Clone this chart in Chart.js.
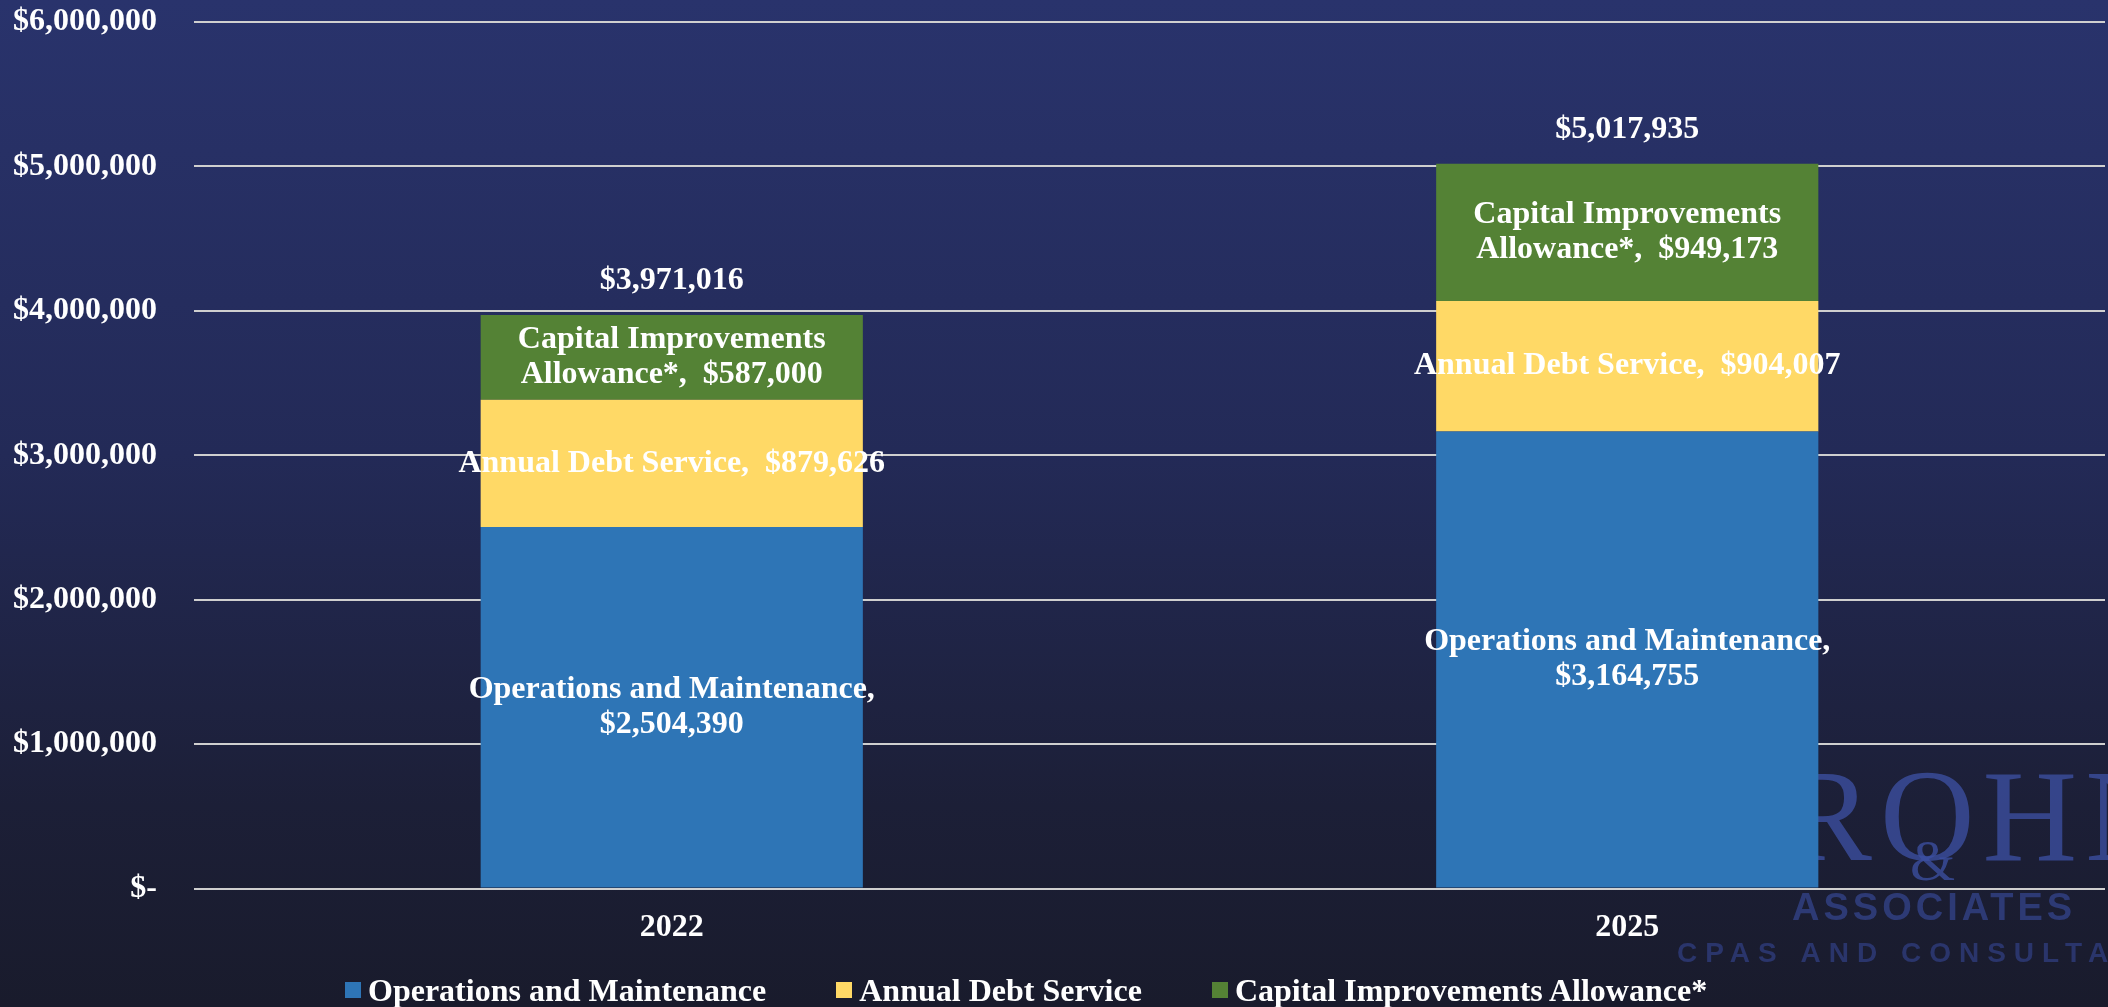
<!DOCTYPE html>
<html lang="en">
<head>
  <meta charset="UTF-8" />
  <title>Budget Components 2022 vs 2025</title>
  <script src="https://cdn.jsdelivr.net/npm/chart.js"></script>
  <style>
    html, body {
      margin: 0;
      width: 2108px;
      height: 1007px;
      overflow: hidden;
    }

    body {
      background: linear-gradient(to bottom, #29336c 0%, #232a57 45%, #1c1f37 80%, #191b2c 100%);
      font-family: 'Liberation Serif', 'Times New Roman', serif;
      position: relative;
    }

    #wrap {
      position: absolute;
      left: 0;
      top: 0;
      width: 2108px;
      height: 1007px;
    }

    .legend {
      position: absolute;
      left: 345px;
      top: 970px;
      height: 40px;
      display: flex;
      align-items: center;
      gap: 70px;
      color: white;
      font-weight: bold;
      font-size: 32px;
      white-space: nowrap;
    }

    .legend div {
      display: flex;
      align-items: center;
    }

    .color-box {
      width: 16px;
      height: 16px;
      margin-right: 7px;
    }
  </style>
</head>
<body>
  <div id="wrap"><canvas id="chart"></canvas></div>
  <div class="legend" id="legend"></div>

  <script>
    const years = ['2022', '2025'];
    const seriesNames = ['Operations and Maintenance', 'Annual Debt Service', 'Capital Improvements Allowance*'];
    const seriesColors = ['#2e75b6', '#ffd966', '#548235'];
    const opsValues = [2504390, 3164755];
    const debtValues = [879626, 904007];
    const capitalValues = [587000, 949173];
    // label text inside each segment, {v} is the value
    const segmentLabels = [
      'Operations and Maintenance,\n{v}',
      'Annual Debt Service,  {v}',
      'Capital Improvements\nAllowance*,  {v}'
    ];
    const yTicks = [0, 1000000, 2000000, 3000000, 4000000, 5000000, 6000000];

    const FONT = '"Liberation Serif", "Times New Roman", serif';
    const money = v => '$' + v.toLocaleString('en-US');

    // legend (html, like the original slide)
    document.getElementById('legend').innerHTML = seriesNames.map((n, i) =>
      `<div><div class="color-box" style="background:${seriesColors[i]}"></div>${n}</div>`
    ).join('');

    // faint company logo behind the second bar
    const watermark = {
      id: 'watermark',
      beforeDatasetsDraw(chart) {
        const ctx = chart.ctx;
        const a = chart.chartArea;
        ctx.save();
        ctx.textBaseline = 'alphabetic';
        ctx.textAlign = 'left';
        ctx.fillStyle = 'rgba(62, 82, 165, 0.75)';
        ctx.font = '131px ' + FONT;
        ctx.letterSpacing = '8px';
        // place it so the "O" starts just right of the bar
        const kr = ctx.measureText('KR').width;
        ctx.fillText('KROHN', a.right - 225 - kr, a.bottom - 29);
        ctx.letterSpacing = '0px';
        ctx.font = '58px ' + FONT;
        ctx.fillText('&', a.right - 195, a.bottom - 9);
        ctx.font = 'bold 38px "Liberation Sans", Arial, sans-serif';
        ctx.letterSpacing = '4px';
        ctx.fillStyle = 'rgba(52, 68, 140, 0.75)';
        ctx.fillText('ASSOCIATES', a.right - 313, a.bottom + 31);
        ctx.font = 'bold 28px "Liberation Sans", Arial, sans-serif';
        ctx.letterSpacing = '8px';
        ctx.fillStyle = 'rgba(48, 62, 128, 0.75)';
        ctx.fillText('CPAS AND CONSULTANTS', a.right - 428, a.bottom + 73);
        ctx.restore();
      }
    };

    const barLabels = {
      id: 'barLabels',
      afterDatasetsDraw(chart) {
        const ctx = chart.ctx;
        ctx.save();
        ctx.fillStyle = '#ffffff';
        ctx.font = 'bold 32px ' + FONT;
        ctx.textAlign = 'center';
        ctx.textBaseline = 'middle';
        chart.data.datasets.forEach((ds, i) => {
          chart.getDatasetMeta(i).data.forEach((el, j) => {
            const lines = segmentLabels[i].replace('{v}', money(ds.data[j])).split('\n');
            const cy = (el.y + el.base) / 2;
            const lh = 35;
            lines.forEach((t, k) => {
              ctx.fillText(t, el.x, cy + (k - (lines.length - 1) / 2) * lh);
            });
          });
        });
        const last = chart.getDatasetMeta(chart.data.datasets.length - 1).data;
        last.forEach((el, j) => {
          const total = chart.data.datasets.reduce((s, ds) => s + ds.data[j], 0);
          ctx.fillText(money(total), el.x, el.y - 34);
        });
        ctx.restore();
      }
    };

    new Chart(document.getElementById('chart').getContext('2d'), {
      type: 'bar',
      data: {
        labels: years,
        datasets: [
          { label: seriesNames[0], data: opsValues, backgroundColor: seriesColors[0] },
          { label: seriesNames[1], data: debtValues, backgroundColor: seriesColors[1] },
          { label: seriesNames[2], data: capitalValues, backgroundColor: seriesColors[2] }
        ]
      },
      options: {
        responsive: true,
        maintainAspectRatio: false,
        animation: false,
        categoryPercentage: 0.4,
        barPercentage: 1.0,
        layout: { padding: { left: 13, right: 3, top: 22, bottom: 40 } },
        plugins: {
          legend: { display: false },
          tooltip: { enabled: false }
        },
        scales: {
          x: {
            stacked: true,
            grid: { display: false, drawTicks: false },
            border: { display: false },
            ticks: {
              color: '#ffffff',
              padding: 20,
              font: { family: FONT, size: 32, weight: 'bold' }
            }
          },
          y: {
            stacked: true,
            min: 0,
            max: yTicks[yTicks.length - 1],
            afterBuildTicks: axis => { axis.ticks = yTicks.map(v => ({ value: v })); },
            afterFit: axis => {
              axis.width = 181;
              axis.paddingTop = 18;
              axis.paddingBottom = 18;
            },
            grid: { color: '#cfcfcf', lineWidth: 2, drawTicks: false },
            border: { display: false },
            ticks: {
              color: '#ffffff',
              padding: 37,
              font: { family: FONT, size: 32, weight: 'bold' },
              callback: v => v === 0 ? '$-' : money(v)
            }
          }
        }
      },
      plugins: [watermark, barLabels]
    });
  </script>
</body>
</html>
